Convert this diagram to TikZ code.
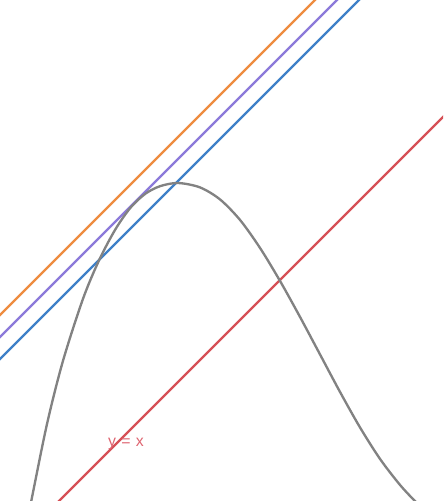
\documentclass[tikz,border=0pt]{standalone}
\usepackage{fontspec}
\setmainfont{Liberation Sans}
\definecolor{corange}{RGB}{238,140,64}
\definecolor{cpurple}{RGB}{140,122,218}
\definecolor{cblue}{RGB}{62,128,200}
\definecolor{cred}{RGB}{214,80,86}
\definecolor{cgray}{RGB}{130,130,130}
\definecolor{clabel}{RGB}{222,100,112}
\tikzset{
  plotline/.style={line width=2pt, line cap=round},
}
\begin{document}
\begin{tikzpicture}[x=0.03cm,y=-0.03cm]
\useasboundingbox (0,0) rectangle (443,501);
\begin{scope}
\clip (0,0) rectangle (443,501);
\coordinate (oA) at (-5,320); \coordinate (oB) at (320,-5);
\coordinate (pA) at (-5,342); \coordinate (pB) at (342,-5);
\coordinate (bA) at (-5,364); \coordinate (bB) at (364,-5);
\coordinate (rA) at (54,506); \coordinate (rB) at (448,112);
\draw[plotline, corange] (oA) -- (oB);
\draw[plotline, cpurple] (pA) -- (pB);
\draw[plotline, cblue] (bA) -- (bB);
\draw[plotline, cred] (rA) -- (rB);
\draw[plotline, cgray] plot[smooth] coordinates {
 (28,518) (31,502.4) (47,424) (63,360.8) (83,298.8) (99,260.4) (115,230)
 (130,208.3) (145,194) (160,186.2) (178,183) (200,187.4) (220,199.4)
 (240,219.9) (260,247.9) (280,280.9) (300,316.9) (320,354.4) (340,391.9)
 (360,427.4) (380,458.9) (400,484.9) (417,503.2) (430,516)};
\end{scope}
\node[text=clabel, font=\fontsize{13.5}{16}\selectfont, inner sep=0pt] (lbl) at (126,444) {y\,\,=\,\,x};
\end{tikzpicture}
\end{document}
